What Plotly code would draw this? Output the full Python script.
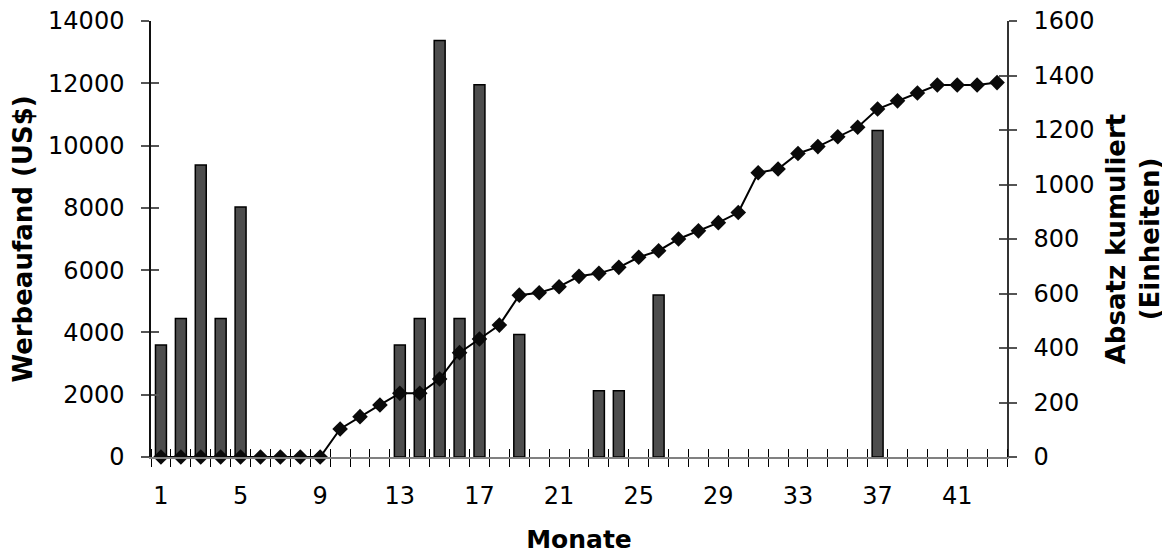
import plotly.graph_objects as go

months = list(range(1, 44))
werbeaufwand = [3600, 4450, 9380, 4450, 8030, 0, 0, 0, 0, 0,
                0, 0, 3600, 4450, 13370, 4450, 11950, 0, 3930, 0,
                0, 0, 2130, 2130, 0, 5200, 0, 0, 0, 0,
                0, 0, 0, 0, 0, 0, 10480, 0, 0, 0,
                0, 0, 0]
absatz_kum = [0, 0, 0, 0, 0, 0, 0, 0, 0, 103,
              148, 191, 234, 234, 286, 383, 433, 484, 594, 603,
              625, 663, 674, 696, 733, 757, 800, 830, 860, 897,
              1043, 1057, 1114, 1139, 1175, 1210, 1277, 1307, 1336, 1365,
              1365, 1365, 1374]
x_tick_labels = [1, 5, 9, 13, 17, 21, 25, 29, 33, 37, 41]

FONT = "DejaVu Sans"
boundaries = [m - 0.5 for m in months] + [months[-1] + 0.5]
xr = [months[0] - 0.5, months[-1] + 0.5]
yr_left = [0, 14000]
yr_right = [0, 1600]
bar_outline = [1.5 if v > 0 else 0 for v in werbeaufwand]

fig = go.Figure()
fig.add_trace(go.Bar(x=months, y=werbeaufwand, width=0.55,
                     marker=dict(color="#4d4d4d", line=dict(color="#000000", width=bar_outline)),
                     xaxis="x", yaxis="y", showlegend=False))
fig.add_trace(go.Scatter(x=months, y=absatz_kum, mode="lines+markers",
                         line=dict(color="#000000", width=2),
                         marker=dict(symbol="diamond", size=12, color="#0a0a0a"),
                         xaxis="x", yaxis="y2", showlegend=False, cliponaxis=False))
# helper traces so the overlay axes (inner halves of crossing ticks) get drawn
fig.add_trace(go.Scatter(x=[None], y=[None], xaxis="x2", yaxis="y", showlegend=False, hoverinfo="skip"))
fig.add_trace(go.Scatter(x=[None], y=[None], xaxis="x", yaxis="y3", showlegend=False, hoverinfo="skip"))
fig.add_trace(go.Scatter(x=[None], y=[None], xaxis="x", yaxis="y4", showlegend=False, hoverinfo="skip"))

tickfont = dict(family=FONT, size=24, color="#000000")
xtitlefont = dict(family=FONT, size=25, color="#000000", weight="bold")
ytitlefont = dict(family=FONT, size=26, color="#000000", weight="bold")

fig.update_layout(
    width=1162, height=546,
    paper_bgcolor="white", plot_bgcolor="white",
    margin=dict(l=143, r=163, t=13, b=97, autoexpand=False),
    font=dict(family=FONT, size=24, color="#000000"),
    xaxis=dict(range=xr, tickvals=x_tick_labels, ticktext=[str(v) for v in x_tick_labels],
               ticks="outside", ticklen=0, tickfont=tickfont, ticklabelstandoff=16,
               minor=dict(tickvals=boundaries, ticks="outside", ticklen=8, tickcolor="#000000", tickwidth=1, showgrid=False),
               showline=True, linecolor="#808080", linewidth=1.5, showgrid=False, zeroline=False,
               automargin=False,
               title=dict(text="Monate", font=xtitlefont, standoff=24)),
    xaxis2=dict(range=xr, overlaying="x", anchor="y", side="bottom", showticklabels=False,
                tickvals=[], ticks="",
                minor=dict(tickvals=boundaries, ticks="inside", ticklen=8, tickcolor="#000000", tickwidth=1, showgrid=False),
                showline=False, showgrid=False, zeroline=False, automargin=False),
    yaxis=dict(range=yr_left, dtick=2000, tickformat="d", ticks="outside", ticklen=8, tickcolor="#555555", tickwidth=1.5,
               tickfont=tickfont, ticklabelstandoff=12, ticklabeloverflow="allow",
               showline=True, linecolor="#111111", linewidth=1.5, showgrid=False, zeroline=False,
               automargin=False,
               title=dict(text="Werbeaufand (US$)", font=ytitlefont, standoff=12)),
    yaxis2=dict(range=yr_right, dtick=200, tickformat="d", overlaying="y", side="right", anchor="x",
                ticks="outside", ticklen=8, tickcolor="#555555", tickwidth=1.5,
                tickfont=tickfont, ticklabelstandoff=12, ticklabeloverflow="allow",
                showline=True, linecolor="#333333", linewidth=1.5, showgrid=False, zeroline=False,
                automargin=False,
                title=dict(text="Absatz kumuliert<br>(Einheiten)", font=ytitlefont, standoff=13)),
    yaxis3=dict(range=yr_left, dtick=2000, overlaying="y", side="left", anchor="x",
                ticks="inside", ticklen=8, tickcolor="#555555", tickwidth=1.5,
                showticklabels=False, showline=False, showgrid=False, zeroline=False, automargin=False),
    yaxis4=dict(range=yr_right, dtick=200, overlaying="y", side="right", anchor="x",
                ticks="inside", ticklen=8, tickcolor="#555555", tickwidth=1.5,
                showticklabels=False, showline=False, showgrid=False, zeroline=False, automargin=False),
)

fig.write_html("out.html")
